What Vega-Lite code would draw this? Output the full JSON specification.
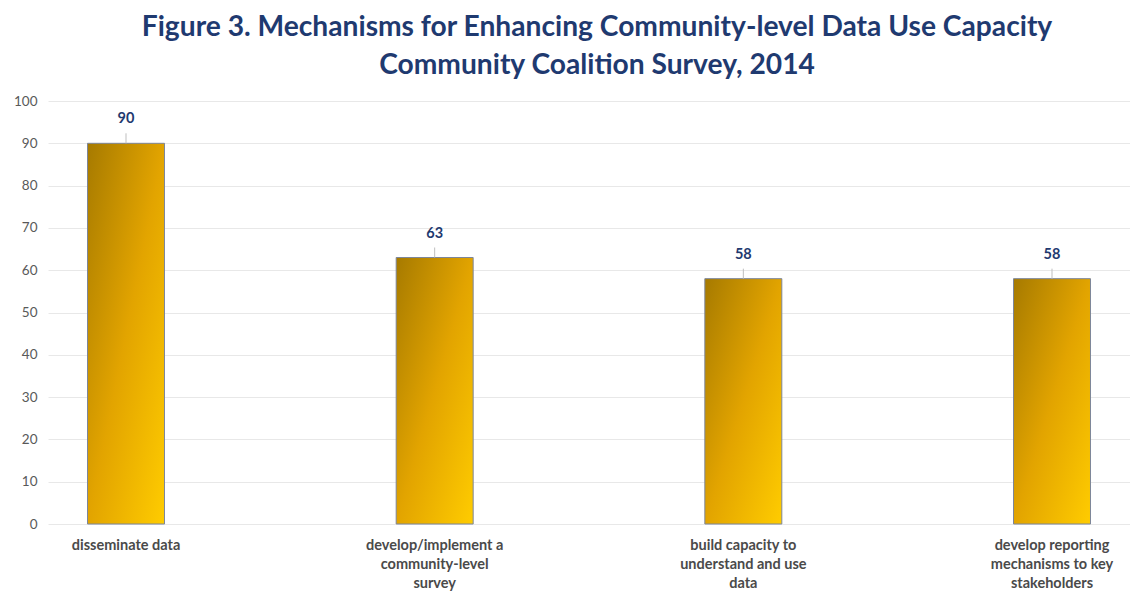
{
  "$schema": "https://vega.github.io/schema/vega-lite/v6.json",
  "autosize": {"type": "none"},
  "width": 1082,
  "height": 423,
  "padding": {"left": 48, "top": 101, "right": 0, "bottom": 67},
  "background": "white",
  "title": {
    "text": ["Figure 3. Mechanisms for Enhancing Community-level Data Use Capacity", "Community Coalition Survey, 2014"],
    "font": "Lato",
    "fontSize": 28.2,
    "fontWeight": "bold",
    "color": "#1F3A70",
    "lineHeight": 38,
    "anchor": "middle",
    "offset": 14,
    "frame": "group",
    "dx": 8
  },
  "data": {
    "values": [
      {"mechanism": "disseminate data", "value": 90},
      {"mechanism": "develop/implement a|community-level|survey", "value": 63},
      {"mechanism": "build capacity to|understand and use|data", "value": 58},
      {"mechanism": "develop reporting|mechanisms to key|stakeholders", "value": 58}
    ]
  },
  "config": {
    "view": {"stroke": null},
    "font": "Lato"
  },
  "encoding": {
    "x": {
      "field": "mechanism",
      "type": "nominal",
      "sort": null,
      "scale": {"paddingInner": 0.7506, "paddingOuter": 0.128},
      "axis": {
        "title": null,
        "labelAngle": 0,
        "labelExpr": "split(datum.label, '|')",
        "labelFont": "Lato",
        "labelFontSize": 14.5,
        "labelFontWeight": "bold",
        "labelColor": "#4a4a4a",
        "labelLineHeight": 19,
        "labelPadding": 14,
        "labelBaseline": "top",
        "ticks": false,
        "domain": false,
        "labelLimit": 300
      }
    }
  },
  "layer": [
    {
      "mark": {
        "type": "bar",
        "stroke": "#7d8699",
        "strokeWidth": 1,
        "color": {
          "gradient": "linear",
          "x1": 0, "y1": 0, "x2": 1, "y2": 1,
          "stops": [
            {"offset": 0, "color": "#A67A00"},
            {"offset": 0.5, "color": "#E2A400"},
            {"offset": 1, "color": "#FFCC00"}
          ]
        }
      },
      "encoding": {
        "y": {
          "field": "value",
          "type": "quantitative",
          "scale": {"domain": [0, 100], "nice": false},
          "axis": {
            "title": null,
            "values": [0, 10, 20, 30, 40, 50, 60, 70, 80, 90, 100],
            "labelFont": "Lato",
            "labelFontSize": 13.5,
            "labelColor": "#595959",
            "labelPadding": 11,
            "ticks": false,
            "domain": false,
            "gridColor": "#E8E8E8",
            "gridWidth": 1
          }
        }
      }
    },
    {
      "mark": {"type": "rule", "color": "#BFBFBF", "strokeWidth": 1, "y2Offset": -10},
      "encoding": {
        "y": {"field": "value", "type": "quantitative"},
        "y2": {"field": "value"}
      }
    },
    {
      "mark": {"type": "text", "font": "Lato", "fontSize": 14.5, "fontWeight": "bold", "color": "#1F3A70", "baseline": "alphabetic", "dy": -20},
      "encoding": {
        "y": {"field": "value", "type": "quantitative"},
        "text": {"field": "value", "type": "quantitative"}
      }
    }
  ]
}
